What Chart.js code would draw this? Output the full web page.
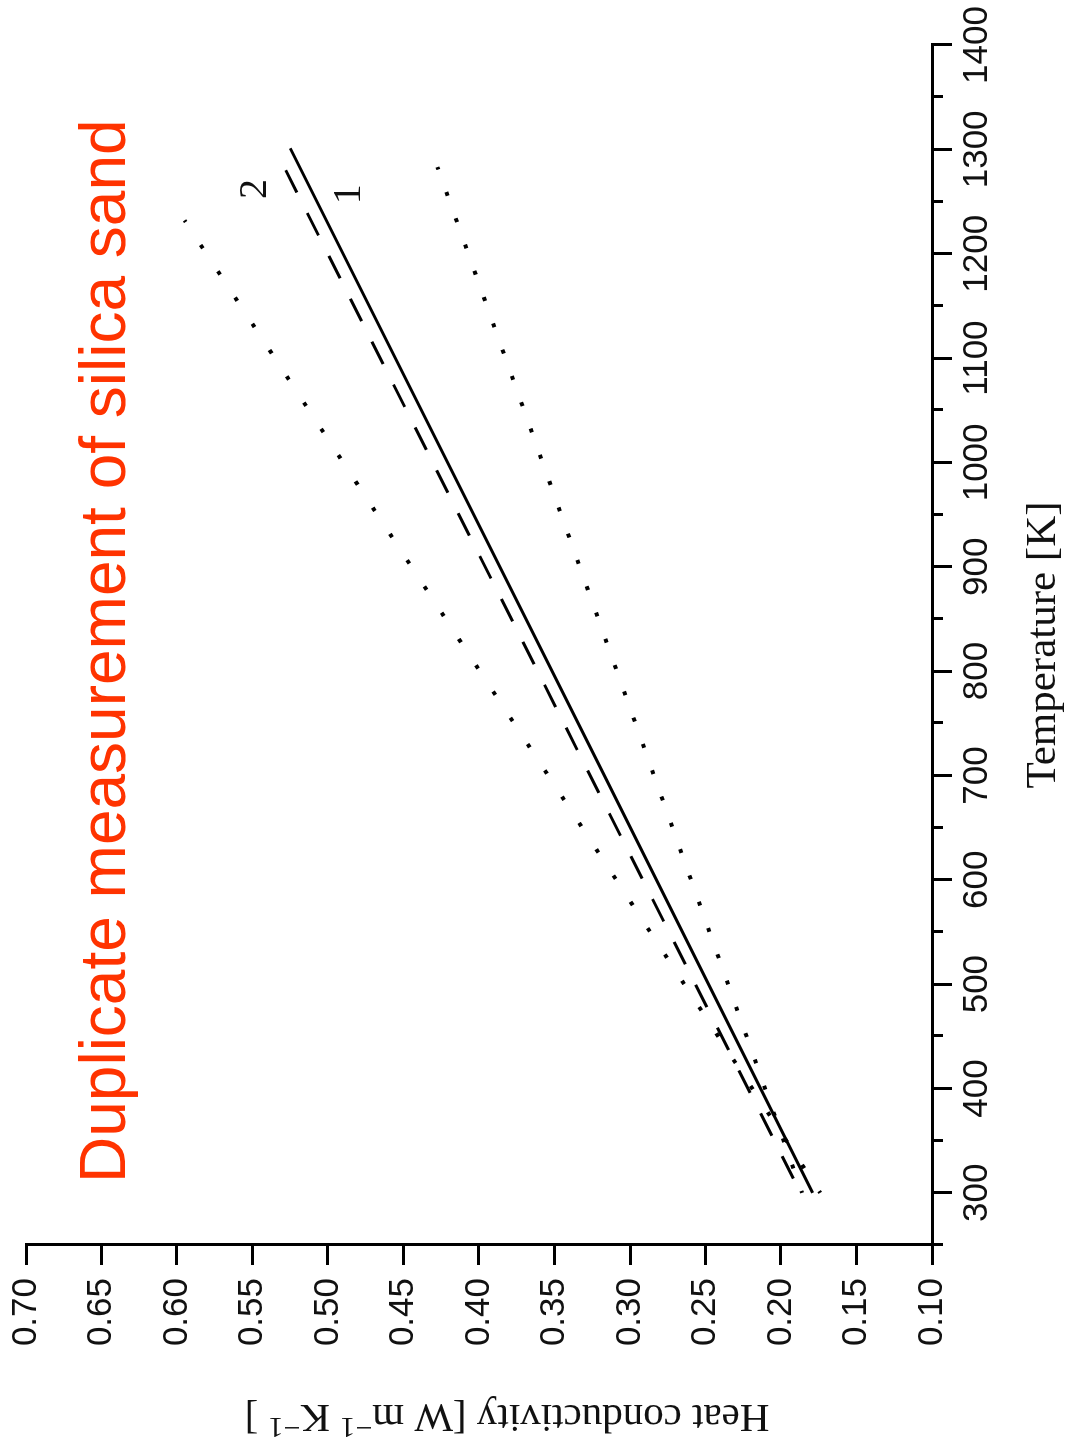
<!DOCTYPE html>
<html>
<head>
<meta charset="utf-8">
<script src="https://cdn.jsdelivr.net/npm/chart.js@4.4.0/dist/chart.umd.min.js"></script>
<style>
  html, body { margin: 0; padding: 0; background: #fff; }
  #wrap { position: relative; width: 1066px; height: 1450px; overflow: hidden; }
  /* the plot is drawn upright, then turned a quarter turn like the scan */
  #chart { position: absolute; left: 0; top: 0; transform-origin: 0 0; transform: translate(0px, 1450px) rotate(-90deg); }
</style>
</head>
<body>
<div id="wrap"><canvas id="chart" width="1450" height="1066"></canvas></div>
<script>
// values: temperature [K] / heat conductivity [W m-1 K-1]
var solidT = [300, 697, 1301];
var solidK = [0.179, 0.316, 0.525];
var dashedT = [300, 716, 1280];
var dashedK = [0.187, 0.332, 0.528];
var upperT = [300, 704, 1232];
var upperK = [0.174, 0.356, 0.595];
var lowerT = [300, 728, 1283];
var lowerK = [0.186, 0.291, 0.4275];

var tempTicks = [300, 400, 500, 600, 700, 800, 900, 1000, 1100, 1200, 1300, 1400];
var tempMinorTicks = [250, 350, 450, 550, 650, 750, 850, 950, 1050, 1150, 1250, 1350];
var condTicks = [0.10, 0.15, 0.20, 0.25, 0.30, 0.35, 0.40, 0.45, 0.50, 0.55, 0.60, 0.65, 0.70];

// curve numbers written next to the line ends
var curveNames = ['1', '2'];
var curveLabelT = [1257, 1262];
var curveLabelK = [0.486, 0.548];

var chartTitle = 'Duplicate measurement of silica sand';
var xTitle = 'Temperature [K]';

var SANS = "'Liberation Sans', Arial, Helvetica, sans-serif";
var SERIF = "'Liberation Serif', 'Times New Roman', Times, serif";

function pts(ts, ks) {
  return ts.map(function (t, i) { return { x: t, y: ks[i] }; });
}

var extras = {
  id: 'extras',
  afterDraw: function (chart) {
    var ctx = chart.ctx;
    var xs = chart.scales.x, ys = chart.scales.y, area = chart.chartArea;
    ctx.save();

    // minor ticks on the temperature axis
    ctx.strokeStyle = '#000';
    ctx.lineWidth = 3;
    tempMinorTicks.forEach(function (t) {
      var px = Math.round(xs.getPixelForValue(t)) + 0.5;
      ctx.beginPath();
      ctx.moveTo(px, area.bottom);
      ctx.lineTo(px, area.bottom + 11);
      ctx.stroke();
    });

    // y axis title with superscripts
    var big = '41px ' + SERIF, small = '30px ' + SERIF;
    var parts = [
      { t: 'Heat conductivity [W m', f: big, r: 0 },
      { t: '\u22121', f: small, r: -13 },
      { t: ' K', f: big, r: 0 },
      { t: '\u22121', f: small, r: -13 },
      { t: ' ]', f: big, r: 0 }
    ];
    var total = 0;
    parts.forEach(function (p) { ctx.font = p.f; p.w = ctx.measureText(p.t).width; total += p.w; });
    ctx.save();
    ctx.translate(45, (area.top + area.bottom) / 2 + 28);
    ctx.rotate(-Math.PI / 2);
    ctx.fillStyle = '#111';
    ctx.textAlign = 'left';
    ctx.textBaseline = 'alphabetic';
    var cx = -total / 2;
    parts.forEach(function (p) {
      ctx.font = p.f;
      ctx.fillText(p.t, cx, p.r);
      cx += p.w;
    });
    ctx.restore();

    // curve numbers
    ctx.font = '40px ' + SERIF;
    ctx.fillStyle = '#111';
    ctx.textAlign = 'center';
    ctx.textBaseline = 'middle';
    curveNames.forEach(function (n, i) {
      ctx.fillText(n, xs.getPixelForValue(curveLabelT[i]), ys.getPixelForValue(curveLabelK[i]));
    });

    // red heading
    ctx.font = '64px ' + SANS;
    ctx.fillStyle = 'rgb(255, 51, 0)';
    ctx.textAlign = 'left';
    ctx.textBaseline = 'alphabetic';
    ctx.fillText(chartTitle, 267, 125);

    ctx.restore();
  }
};

var ctx = document.getElementById('chart').getContext('2d');
new Chart(ctx, {
  type: 'line',
  data: {
    datasets: [
      { label: 'upper', data: pts(upperT, upperK), borderColor: '#000', borderWidth: 4, borderDash: [4, 27.4], borderDashOffset: 2 },
      { label: 'lower', data: pts(lowerT, lowerK), borderColor: '#000', borderWidth: 4, borderDash: [4, 23.9], borderDashOffset: 2 },
      { label: '2', data: pts(dashedT, dashedK), borderColor: '#000', borderWidth: 3, borderDash: [25, 23], borderDashOffset: 32 },
      { label: '1', data: pts(solidT, solidK), borderColor: '#000', borderWidth: 3 }
    ]
  },
  options: {
    responsive: false,
    animation: false,
    devicePixelRatio: 1,
    layout: { padding: { top: 26, right: 45, bottom: 0, left: 0 } },
    elements: { point: { radius: 0 }, line: { tension: 0, fill: false } },
    plugins: { legend: { display: false }, tooltip: { enabled: false }, title: { display: false } },
    scales: {
      x: {
        type: 'linear',
        position: 'bottom',
        min: 250,
        max: 1400,
        afterBuildTicks: function (scale) {
          scale.ticks = tempTicks.map(function (v) { return { value: v }; });
        },
        afterFit: function (scale) {
          scale.height = 134;
          scale.paddingLeft = 0;
          scale.paddingRight = 0;
        },
        ticks: {
          autoSkip: false,
          maxRotation: 0,
          padding: 4,
          color: '#111',
          font: { family: SANS, size: 35 },
          callback: function (v) { return String(v); }
        },
        grid: { drawOnChartArea: false, drawTicks: true, tickLength: 20, tickWidth: 3, tickColor: '#000', color: '#000', lineWidth: 3 },
        border: { display: true, color: '#000', width: 3 },
        title: {
          display: true,
          text: xTitle,
          color: '#111',
          font: { family: SERIF, size: 43, lineHeight: 1 },
          padding: { top: 0, bottom: 1 }
        }
      },
      y: {
        type: 'linear',
        position: 'left',
        min: 0.10,
        max: 0.70,
        afterBuildTicks: function (scale) {
          scale.ticks = condTicks.map(function (v) { return { value: v }; });
        },
        afterFit: function (scale) {
          scale.width = 205;
          scale.paddingTop = 0;
          scale.paddingBottom = 0;
        },
        ticks: {
          autoSkip: false,
          padding: 13,
          color: '#111',
          font: { family: SANS, size: 35 },
          callback: function (v) { return Number(v).toFixed(2); }
        },
        grid: { drawOnChartArea: false, drawTicks: true, tickLength: 20, tickWidth: 3, tickColor: '#000', color: '#000', lineWidth: 3 },
        border: { display: true, color: '#000', width: 3 }
      }
    }
  },
  plugins: [extras]
});
</script>
</body>
</html>
